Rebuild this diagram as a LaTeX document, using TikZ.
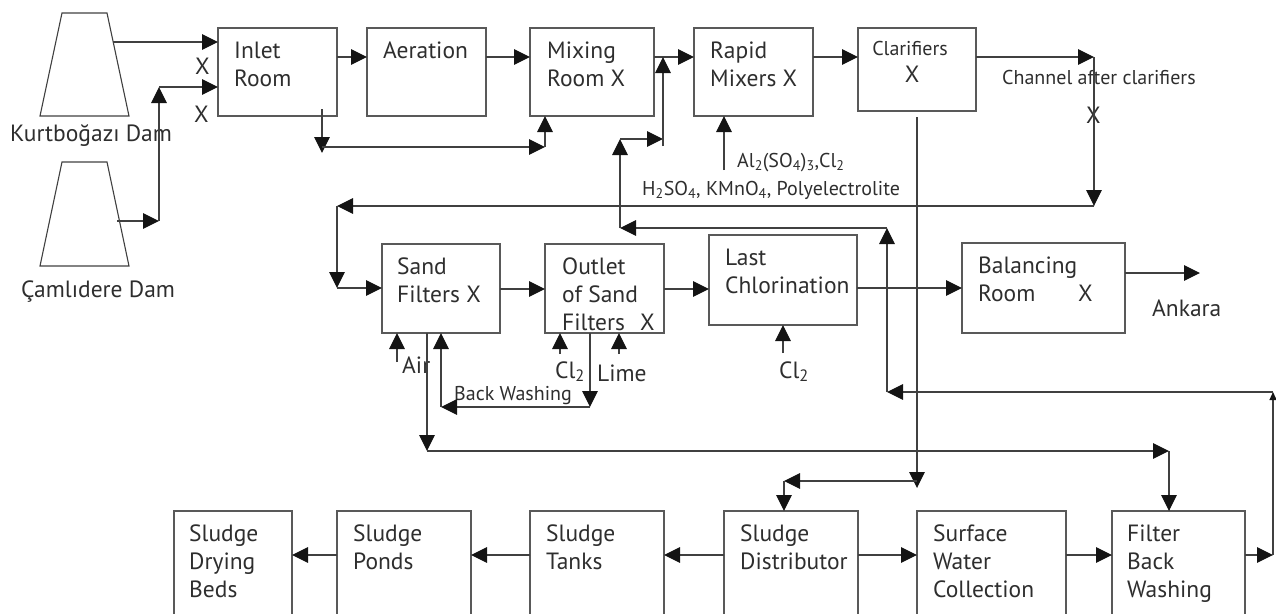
\documentclass[tikz,border=0pt]{standalone}
\usepackage{fontspec}
\setmainfont{PT Sans}
\usetikzlibrary{arrows.meta,calc}
\tikzset{
  ln/.style={draw=black!75, line width=1.1pt},
  arr/.style={ln, -{Triangle[length=16pt,width=15.5pt,color=black!92]}},
  sarr/.style={ln, -{Triangle[length=8pt,width=7pt,color=black!92]}},
  blk/.style={draw=black!65, line width=1.1pt, rectangle, inner sep=0pt, outer sep=0pt, anchor=north west},
  txt/.style={inner sep=0pt, anchor=north west, align=left, text=black!82, font=\fontsize{23.5}{28}\selectfont},
  lab/.style={inner sep=0pt, anchor=base west, text=black!82, font=\fontsize{23.5}{28}\selectfont},
  slab/.style={inner sep=0pt, anchor=base west, text=black!82, font=\fontsize{20}{24}\selectfont},
}
\begin{document}
\begin{tikzpicture}[x=1pt,y=-1pt]
\path[use as bounding box] (0,0) rectangle (1276,613);

% dams
\draw[ln] (62,13) -- (107,13) -- (129,116) -- (40,116) -- cycle;
\draw[ln] (62,162) -- (107,162) -- (129,266) -- (40,266) -- cycle;
\node[lab] (kurt) at (10,141) {Kurtboğazı Dam};
\node[lab] (caml) at (21,297) {Çamlıdere Dam};

% top row boxes
\node[blk, minimum width=119pt, minimum height=88pt] (inlet) at (218,28) {};
\node[blk, minimum width=119pt, minimum height=88pt] (aer) at (367,28) {};
\node[blk, minimum width=124pt, minimum height=88pt] (mix) at (530,28) {};
\node[blk, minimum width=119pt, minimum height=88pt] (rapid) at (694,28) {};
\node[blk, minimum width=118pt, minimum height=83pt] (clar) at (858,28) {};

\node[txt] (tinlet) at ($(inlet.north west)+(16,10.4)$) {\strut Inlet\\Room};
\node[txt] (taer) at ($(aer.north west)+(16,10.4)$) {\strut Aeration};
\node[txt] (tmix) at ($(mix.north west)+(17,10.4)$) {\strut Mixing\\Room X};
\node[txt] (trapid) at ($(rapid.north west)+(16,10.4)$) {\strut Rapid\\Mixers X};
\node[slab, anchor=base] (tclar) at (910,55) {Clarifiers};
\node[lab, anchor=base] (tclarx) at (912,82) {X};

% middle row boxes
\node[blk, minimum width=118pt, minimum height=89pt] (sand) at (382,244) {};
\node[blk, minimum width=119pt, minimum height=89pt] (outlet) at (545,244) {};
\node[blk, minimum width=148pt, minimum height=90pt] (last) at (709,235) {};
\node[blk, minimum width=163pt, minimum height=90pt] (bal) at (962,243) {};

\node[txt] (tsand) at ($(sand.north west)+(15,10.4)$) {\strut Sand\\Filters X};
\node[txt] (toutlet) at ($(outlet.north west)+(17,10.4)$) {\strut Outlet\\of Sand\\\makebox[78pt][l]{Filters}X};
\node[txt] (tlast) at ($(last.north west)+(16,10.4)$) {\strut Last\\Chlorination};
\node[txt] (tbal) at ($(bal.north west)+(16,10.4)$) {\strut Balancing\\\makebox[100pt][l]{Room}X};

% bottom row boxes
\node[blk, minimum width=118pt, minimum height=112pt] (dry) at (174,511) {};
\node[blk, minimum width=134pt, minimum height=112pt] (ponds) at (337,511) {};
\node[blk, minimum width=134pt, minimum height=112pt] (tanks) at (530,511) {};
\node[blk, minimum width=134pt, minimum height=112pt] (dist) at (724,511) {};
\node[blk, minimum width=149pt, minimum height=112pt] (surf) at (917,511) {};
\node[blk, minimum width=133pt, minimum height=112pt] (filt) at (1112,511) {};

\node[txt] (tdry) at ($(dry.north west)+(15,10.4)$) {\strut Sludge\\Drying\\Beds};
\node[txt] (tponds) at ($(ponds.north west)+(16,10.4)$) {\strut Sludge\\Ponds};
\node[txt] (ttanks) at ($(tanks.north west)+(16,10.4)$) {\strut Sludge\\Tanks};
\node[txt] (tdist) at ($(dist.north west)+(16,10.4)$) {\strut Sludge\\Distributor};
\node[txt] (tsurf) at ($(surf.north west)+(16,10.4)$) {\strut Surface\\Water\\Collection};
\node[txt] (tfilt) at ($(filt.north west)+(15,10.4)$) {\strut Filter\\Back\\Washing};

% free labels
\node[lab] (x1) at (195,74) {X};
\node[lab] (x2) at (194,122) {X};
\node[slab] (chan) at (1002,84) {Channel after clarifiers};
\node[lab] (x3) at (1086,123) {X};
\node[slab] (chem1) at (737,167) {Al\textsubscript{2}(SO\textsubscript{4})\textsubscript{3},Cl\textsubscript{2}};
\node[slab] (chem2) at (642,195) {H\textsubscript{2}SO\textsubscript{4}, KMnO\textsubscript{4}, Polyelectrolite};
\node[lab] (air) at (402,373) {Air};
\node[lab] (cl1) at (555,378) {Cl\textsubscript{2}};
\node[lab] (lime) at (597,381) {Lime};
\node[slab] (bw) at (454,400) {Back Washing};
\node[lab] (cl2) at (779,378) {Cl\textsubscript{2}};
\node[lab] (ank) at (1152,316) {Ankara};

% coordinates
\coordinate (r1) at (0,57);
\coordinate (r2) at (0,289);
\coordinate (r3) at (0,555);
\coordinate (d1o) at (113,42);
\coordinate (d2o) at (117,221);
\coordinate (j1) at (159,221);
\coordinate (j2) at (159,87);
\coordinate (ch) at (1094,57);
\coordinate (cd) at (1094,206);
\coordinate (cl) at (337,206);
\coordinate (cs) at (337,288);
\coordinate (ib1) at (322,109);
\coordinate (ib2) at (322,153);
\coordinate (ib3) at (322,147);
\coordinate (ib4) at (545,147);
\coordinate (ra) at (724,170);
\coordinate (m1) at (620,228);
\coordinate (m2) at (620,139);
\coordinate (m3) at (663,139);
\coordinate (m4) at (663,146);
\coordinate (n1) at (887,228);
\coordinate (n2) at (887,392);
\coordinate (n3) at (1273,392);
\coordinate (n4) at (1273,555);
\coordinate (k1) at (917,117);
\coordinate (k2) at (917,488);
\coordinate (k3) at (917,481);
\coordinate (k4) at (784,481);
\coordinate (a1) at (397,362);
\coordinate (b1) at (427,451);
\coordinate (b2) at (1169,451);
\coordinate (w1) at (590,407);
\coordinate (w2) at (441,407);
\coordinate (c1) at (560,354);
\coordinate (l1) at (619,354);
\coordinate (c2) at (783,353);
\coordinate (ao) at (1200,273);

% top connectors
\draw[arr] (d1o) -- (d1o -| inlet.west);
\draw[arr] (d2o) -- (j1);
\draw[arr] (j1) -- (j2);
\draw[arr] (j2) -- (j2 -| inlet.west);
\draw[arr] (inlet.east |- r1) -- (aer.west |- r1);
\draw[arr] (aer.east |- r1) -- (mix.west |- r1);
\draw[arr] (mix.east |- r1) -- (rapid.west |- r1);
\draw[arr] (rapid.east |- r1) -- (clar.west |- r1);
\draw[arr] (clar.east |- r1) -- (ch);
\draw[arr] (ch) -- (cd);
\draw[arr] (cd) -- (cl);
\draw[arr] (cl) -- (cs);
\draw[arr] (cs) -- (sand.west |- cs);
\draw[arr] (ib1) -- (ib2);
\draw[arr] (ib3) -- (ib4);
\draw[arr] (ib4) -- (mix.south -| ib4);
\draw[arr] (ra) -- (rapid.south -| ra);

% return loop
\draw[arr] (filt.east |- n4) -- (n4);
\draw[sarr] (n4) -- (n3);
\draw[arr] (n3) -- (n2);
\draw[arr] (n2) -- (n1);
\draw[arr] (n1) -- (m1);
\draw[arr] (m1) -- (m2);
\draw[arr] (m2) -- (m3);
\draw[arr] (m4) -- (m3 |- r1);

% clarifier sludge
\draw[arr] (k1) -- (k2);
\draw[arr] (k3) -- (k4);
\draw[arr] (k4) -- (dist.north -| k4);

% middle row
\draw[arr] (sand.east |- r2) -- (outlet.west |- r2);
\draw[arr] (outlet.east |- r2) -- (last.west |- r2);
\draw[arr] (last.east |- cs) -- (bal.west |- cs);
\draw[arr] (bal.east |- ao) -- (ao);
\draw[arr] (a1) -- (sand.south -| a1);
\draw[arr] (sand.south -| b1) -- (b1);
\draw[arr] (b1) -- (b2);
\draw[arr] (b2) -- (filt.north -| b2);
\draw[arr] (outlet.south -| w1) -- (w1);
\draw[arr] (w1) -- (w2);
\draw[arr] (w2) -- (sand.south -| w2);
\draw[arr] (c1) -- (outlet.south -| c1);
\draw[arr] (l1) -- (outlet.south -| l1);
\draw[arr] (c2) -- (last.south -| c2);

% bottom row
\draw[arr] (tanks.west |- r3) -- (ponds.east |- r3);
\draw[arr] (ponds.west |- r3) -- (dry.east |- r3);
\draw[arr] (dist.west |- r3) -- (tanks.east |- r3);
\draw[arr] (dist.east |- r3) -- (surf.west |- r3);
\draw[arr] (surf.east |- r3) -- (filt.west |- r3);
\end{tikzpicture}
\end{document}
